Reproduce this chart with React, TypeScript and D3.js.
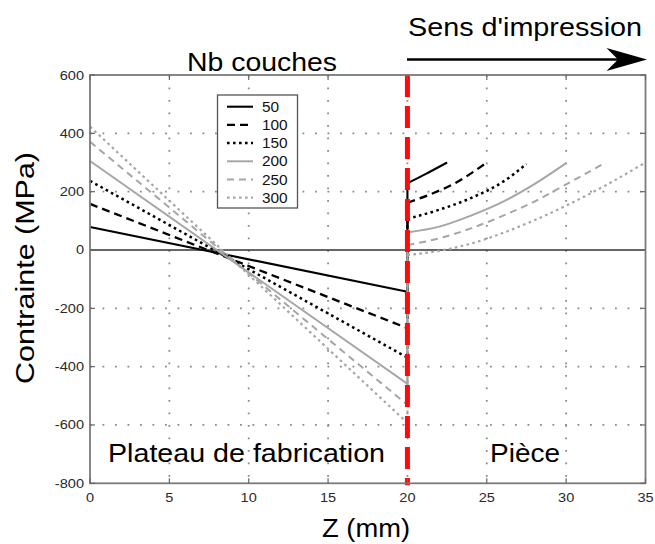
import React from "react";
import * as d3 from "d3";

// ---- data ----
const layers = ["50", "100", "150", "200", "250", "300"];
const layerColors = ["#000000", "#000000", "#000000", "#a6a6a6", "#a6a6a6", "#a6a6a6"];
const layerDash = ["none", "8,5", "2.6,3.4", "none", "7,5", "2.6,3.4"];

const plateauZ = [0, 20];
const plateauStress: number[][] = [
  [79, -143],
  [158, -268],
  [237, -369],
  [305, -459],
  [371, -531],
  [423, -593],
];

const piece50: [number, number][] = [[20, 229], [21.2, 262], [22.5, 300]];
const piece100: [number, number][] = [[20, 162], [21.5, 192], [23, 229], [25, 300]];
const piece150: [number, number][] = [[20, 107], [22, 138], [24, 178], [26, 233], [27.5, 295]];
const piece200: [number, number][] = [[20, 60], [22, 80], [24, 118], [26, 165], [28, 226], [30, 298]];
const piece250: [number, number][] = [[20, 17], [22, 40], [24, 74], [26, 117], [28, 166], [30, 225], [32.5, 300]];
const piece300: [number, number][] = [[20, -17], [22, -3], [24, 22], [26, 58], [28, 102], [30, 152], [32.5, 222], [35, 300]];
const pieceCurves = [piece50, piece100, piece150, piece200, piece250, piece300];

const xTicks = [0, 5, 10, 15, 20, 25, 30, 35];
const yTicks = [-800, -600, -400, -200, 0, 200, 400, 600];
const interfaceZ = 20;

const FONT = "'Liberation Sans', Arial, Helvetica, sans-serif";

export default function App() {
  const x = d3.scaleLinear().domain([0, 35]).range([90, 645.5]);
  const y = d3.scaleLinear().domain([-800, 600]).range([483.3, 75]);
  const [x0, x1] = x.range();
  const [yb, yt] = y.range();

  const straight = d3
    .line<[number, number]>()
    .x((d) => x(d[0]))
    .y((d) => y(d[1]));
  const smooth = d3
    .line<[number, number]>()
    .x((d) => x(d[0]))
    .y((d) => y(d[1]))
    .curve(d3.curveMonotoneX);

  const gridStyle = { stroke: "#8a8a8a", strokeWidth: 1.8, strokeDasharray: "1.8,10.7" };
  const lw = [2.1, 2.3, 2.5, 2, 2, 2.2];

  return (
    <svg
      width={655}
      height={544}
      style={{ position: "absolute", left: 0, top: 0, background: "#fff" }}
      fontFamily={FONT}
    >
      <rect x={0} y={0} width={655} height={544} fill="#fff" />
      {/* grid */}
      {xTicks
        .filter((t) => t !== 0 && t !== 35)
        .map((t) => (
          <line key={"gx" + t} x1={x(t)} x2={x(t)} y1={yt} y2={yb} {...gridStyle} />
        ))}
      {yTicks
        .filter((t) => t !== -800 && t !== 600 && t !== 0)
        .map((t) => (
          <line key={"gy" + t} x1={x0} x2={x1} y1={y(t)} y2={y(t)} {...gridStyle} />
        ))}
      {/* zero line */}
      <line x1={x0} x2={x1} y1={y(0)} y2={y(0)} stroke="#333" strokeWidth={1.7} />

      {/* series */}
      {layers.map((l, i) => {
        const left: [number, number][] = [
          [plateauZ[0], plateauStress[i][0]],
          [plateauZ[1], plateauStress[i][1]],
          [pieceCurves[i][0][0], pieceCurves[i][0][1]],
        ];
        return (
          <g key={"s" + l}>
            <path
              d={straight(left) || ""}
              fill="none"
              stroke={layerColors[i]}
              strokeWidth={lw[i]}
              strokeDasharray={layerDash[i]}
            />
            <path
              d={smooth(pieceCurves[i]) || ""}
              fill="none"
              stroke={layerColors[i]}
              strokeWidth={lw[i]}
              strokeDasharray={layerDash[i]}
            />
          </g>
        );
      })}

      {/* interface line */}
      <line
        x1={x(interfaceZ)}
        x2={x(interfaceZ)}
        y1={yt}
        y2={yb + 2}
        stroke="#ff0a0a"
        strokeWidth={5}
        strokeDasharray="22,9"
      />

      {/* frame */}
      <rect x={x0} y={yt} width={x1 - x0} height={yb - yt} fill="none" stroke="#7a7a7a" strokeWidth={1.8} />
      {xTicks.map((t) => (
        <g key={"tx" + t}>
          <line x1={x(t)} x2={x(t)} y1={yb} y2={yb - 5} stroke="#666" strokeWidth={1.2} />
          <line x1={x(t)} x2={x(t)} y1={yt} y2={yt + 5} stroke="#666" strokeWidth={1.2} />
          <text
            x={0}
            y={0}
            transform={`translate(${x(t)},${yb + 19}) scale(1.12,1)`}
            textAnchor="middle"
            fontSize={13}
            fill="#2a2a2a"
          >
            {t}
          </text>
        </g>
      ))}
      {yTicks.map((t) => (
        <g key={"ty" + t}>
          <line x1={x0} x2={x0 + 5} y1={y(t)} y2={y(t)} stroke="#666" strokeWidth={1.2} />
          <line x1={x1} x2={x1 - 5} y1={y(t)} y2={y(t)} stroke="#666" strokeWidth={1.2} />
          <text
            x={0}
            y={0}
            transform={`translate(${x0 - 6},${y(t) + 4.5}) scale(1.12,1)`}
            textAnchor="end"
            fontSize={13}
            fill="#2a2a2a"
          >
            {t}
          </text>
        </g>
      ))}

      {/* legend */}
      <rect x={217.5} y={95} width={80} height={113} fill="#fff" stroke="#555" strokeWidth={1.3} />
      {layers.map((l, i) => {
        const ly = 106.7 + i * 18.2;
        return (
          <g key={"lg" + l}>
            <line
              x1={227}
              x2={253}
              y1={ly}
              y2={ly}
              stroke={layerColors[i]}
              strokeWidth={lw[i]}
              strokeDasharray={layerDash[i]}
            />
            <text
              x={0}
              y={0}
              transform={`translate(262,${ly + 5}) scale(1.1,1)`}
              fontSize={14}
              fill="#111"
            >
              {l}
            </text>
          </g>
        );
      })}

      {/* annotations */}
      <text x={187} y={70.5} fontSize={25} textLength={150} lengthAdjust="spacingAndGlyphs" fill="#000">
        Nb couches
      </text>
      <text x={408} y={36} fontSize={25} textLength={234} lengthAdjust="spacingAndGlyphs" fill="#000">
        Sens d'impression
      </text>
      <line x1={407} x2={625} y1={59.5} y2={59.5} stroke="#000" strokeWidth={2.5} />
      <polygon points="647,59.5 606.5,48 618,59.5 606.5,71" fill="#000" />
      <text x={108} y={462} fontSize={25} textLength={277} lengthAdjust="spacingAndGlyphs" fill="#000">
        Plateau de fabrication
      </text>
      <text x={490} y={462} fontSize={25} textLength={70} lengthAdjust="spacingAndGlyphs" fill="#000">
        Pièce
      </text>
      <text
        x={0}
        y={0}
        transform="translate(34,268) rotate(-90)"
        textAnchor="middle"
        fontSize={26}
        textLength={232}
        lengthAdjust="spacingAndGlyphs"
        fill="#000"
      >
        Contrainte (MPa)
      </text>
      <text x={322} y={537} fontSize={26} textLength={88} lengthAdjust="spacingAndGlyphs" fill="#000">
        Z (mm)
      </text>
    </svg>
  );
}
